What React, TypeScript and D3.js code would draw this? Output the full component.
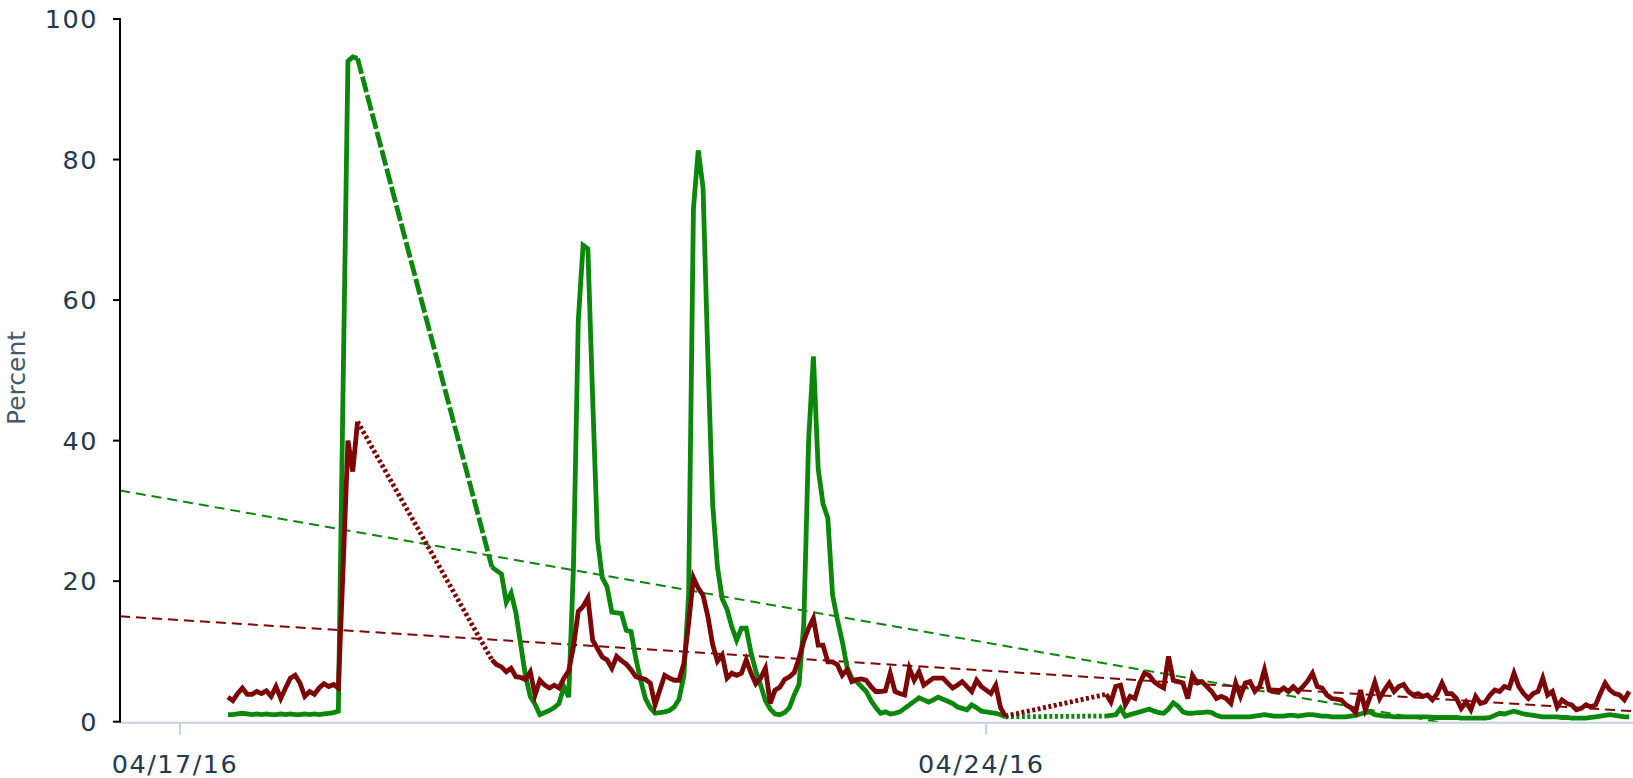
import * as d3 from "d3";

// time is counted in hours from 04/17/16 00:00
const HOUR = 3600 * 1000;
const origin = new Date(2016, 3, 17);
const domainStart = new Date(2016, 3, 16, 11, 30);
const domainEnd = new Date(2016, 3, 29, 14, 48);

// first hour of each run of readings (gaps in between)
const segStarts = [10, 65, 193];

const greenSeg1 = [
  1.0, 1.0, 1.1, 1.2, 1.1, 1.0, 1.1, 1.0, 1.1, 1.0, 1.0, 1.1, 1.0, 1.1, 1.0, 1.0, 1.1, 1.0, 1.1, 1.0, 1.1, 1.2, 1.3,
  1.5, 48, 94, 94.6, 94.4,
];
const redSeg1 = [
  3.5, 3.0, 4.0, 4.8, 3.9, 3.9, 4.3, 4.0, 4.4, 3.6, 5.0, 3.3, 4.8, 6.2, 6.6, 5.5, 3.6, 4.3, 3.9, 4.8, 5.4, 5.0, 5.3,
  4.8, 22, 40, 35.6, 42.7,
];

const greenSeg2 = [
  22, 21.5, 21, 17, 18.3, 15.5, 11, 6.5, 3.6, 2.5, 1.0, 1.3, 1.6, 2.0, 2.6, 5.0, 3.5, 22, 57, 67.8, 67.3, 46, 26,
  20.5, 19.2, 15.6, 15.5, 15.4, 13, 12.8, 9, 5.9, 3.3, 2.0, 1.2, 1.3, 1.4, 1.6, 2.1, 3.2, 6.5, 18, 73, 81.3, 76, 52,
  31, 22, 17.5, 16, 13.5, 11.6, 13.3, 13.3, 9.8, 7.2, 5.2, 3.0, 1.8, 1.1, 1.0, 1.3, 2.0, 3.8, 5.3, 14, 40, 52, 36,
  31, 29, 18, 14.5, 11.5, 7.8, 6.2, 5.7, 5.0, 4.3, 3.0, 2.0, 1.2, 1.4, 1.1, 1.2, 1.4, 1.9, 2.4, 2.9, 3.4, 3.1, 2.8,
  3.1, 3.5, 3.2, 2.9, 2.6, 2.1, 1.9, 1.7, 2.4, 2.0, 1.5, 1.4, 1.3, 1.2, 1.0, 0.7,
];
const redSeg2 = [
  8.8, 8.1, 7.8, 7.1, 7.6, 6.4, 6.3, 6.0, 7.1, 3.8, 5.9, 5.2, 4.8, 5.2, 4.8, 6.2, 7.2, 10.7, 15.7, 16.4, 17.6, 11.6,
  10.4, 9.2, 8.8, 7.6, 9.3, 8.7, 8.2, 7.4, 6.4, 6.2, 6.0, 5.5, 2.4, 4.5, 6.6, 6.2, 5.9, 5.9, 8.3, 14.0, 20.5, 19.0,
  18.0, 15.0, 11.0, 8.6, 9.5, 6.2, 6.9, 6.6, 6.9, 8.8, 6.9, 5.4, 6.2, 7.6, 2.6, 4.5, 4.9, 6.0, 6.4, 7.0, 9.0, 11.5,
  13.3, 14.7, 10.9, 10.9, 8.5, 8.5, 8.1, 6.6, 7.4, 5.7, 6.0, 6.1, 5.9, 5.0, 4.3, 4.3, 4.4, 6.9, 4.3, 4.0, 3.8, 7.6,
  5.9, 7.1, 5.2, 5.7, 6.2, 6.2, 6.2, 5.5, 4.8, 5.2, 5.7, 5.0, 4.3, 5.9, 5.0, 4.5, 4.0, 5.2, 2.0, 0.8,
];

const greenSeg3 = [
  0.8, 0.9, 1.0, 1.9, 0.8, 1.0, 1.2, 1.4, 1.6, 1.8, 1.5, 1.3, 1.2, 1.8, 2.7, 2.2, 1.4, 1.2, 1.2, 1.3, 1.3, 1.4, 1.3,
  0.9, 0.7, 0.7, 0.7, 0.7, 0.7, 0.7, 0.7, 0.8, 0.9, 1.0, 0.9, 0.8, 0.8, 0.8, 0.9, 0.9, 0.8, 0.9, 1.0, 1.0, 0.9, 0.8,
  0.8, 0.7, 0.7, 0.7, 0.7, 0.8, 0.9, 1.1, 1.3, 1.4, 1.0, 0.9, 0.8, 0.8, 0.7, 0.7, 0.7, 0.7, 0.7, 0.7, 0.7, 0.7, 0.6,
  0.6, 0.6, 0.6, 0.6, 0.6, 0.5, 0.5, 0.5, 0.5, 0.5, 0.5, 0.6, 0.9, 1.2, 1.1, 1.3, 1.5, 1.3, 1.1, 1.0, 0.9, 0.8, 0.7,
  0.7, 0.7, 0.7, 0.6, 0.6, 0.5, 0.5, 0.5, 0.5, 0.6, 0.7, 0.8, 0.9, 1.0, 0.9, 0.8, 0.7, 0.7,
];
const redSeg3 = [
  3.9, 2.8, 5.0, 5.2, 2.4, 3.6, 3.3, 5.5, 6.9, 6.6, 5.7, 5.2, 4.8, 9.3, 5.9, 5.7, 5.5, 3.3, 6.6, 5.5, 5.7, 5.0, 4.3,
  3.3, 3.6, 3.3, 2.6, 5.5, 3.6, 5.5, 5.7, 4.3, 5.0, 7.4, 4.5, 4.3, 4.3, 4.8, 4.3, 5.0, 4.3, 5.0, 5.8, 6.9, 5.0, 4.8,
  3.8, 3.3, 3.2, 3.1, 2.4, 2.0, 1.3, 4.5, 1.7, 3.5, 5.6, 3.3, 4.5, 5.5, 4.3, 5.0, 5.3, 4.3, 3.8, 4.0, 3.6, 3.8, 3.1,
  4.0, 5.5, 4.0, 4.0, 3.3, 1.9, 2.8, 1.7, 3.6, 2.6, 2.8, 3.8, 4.5, 4.3, 5.0, 4.8, 6.9, 5.0, 4.0, 3.3, 4.0, 4.3, 6.2,
  3.8, 4.3, 2.1, 3.1, 2.6, 2.4, 1.7, 1.9, 2.4, 2.1, 2.4, 4.0, 5.5, 4.5, 4.0, 3.8, 3.1, 4.3,
];

// trend line values at the two ends of the time axis
const greenTrend = [32.9, -4.9];
const redTrend = [15.0, 1.5];

const yTicks = [0, 20, 40, 60, 80, 100];

const GREEN = "#0b870b";
const RED = "#7d0606";

type Pt = [Date, number];

export default function App() {
  const W = 1633;
  const H = 778;
  const x = d3.scaleTime().domain([domainStart, domainEnd]).range([120, 1633]);
  const y = d3.scaleLinear().domain([0, 100]).range([721.7, 19]);
  const line = d3
    .line<Pt>()
    .x((d) => x(d[0]))
    .y((d) => y(d[1]));

  const toPts = (start: number, vals: number[]): Pt[] =>
    vals.map((v, i) => [new Date(origin.getTime() + (start + i) * HOUR), v]);

  const series = [
    { color: GREEN, segs: [greenSeg1, greenSeg2, greenSeg3], gapDash: ["16,3", "3,2.5"] },
    { color: RED, segs: [redSeg1, redSeg2, redSeg3], gapDash: ["3,2.5", "3,2.5"] },
  ].map((s) => {
    const runs = s.segs.map((vals, i) => toPts(segStarts[i], vals));
    const gaps = runs.slice(1).map((r, i) => [runs[i][runs[i].length - 1], r[0]] as Pt[]);
    return { ...s, runs, gaps };
  });

  const trends = [
    { color: GREEN, vals: greenTrend },
    { color: RED, vals: redTrend },
  ];

  const xTicks = x.ticks(d3.timeWeek.every(1)!);
  const fmt = d3.timeFormat("%m/%d/%y");
  const font = "DejaVu Sans, Verdana, sans-serif";

  return (
    <svg width={W} height={H} style={{ position: "absolute", left: 0, top: 0, background: "#fff" }}>
      <defs>
        <clipPath id="plot">
          <rect x={120} y={0} width={W - 120} height={y(0)} />
        </clipPath>
      </defs>

      {/* x axis */}
      <line x1={120} x2={W} y1={y(0) + 1} y2={y(0) + 1} stroke="#c3d1e0" strokeWidth={2} />
      {xTicks.map((t) => (
        <g key={+t}>
          <line x1={x(t)} x2={x(t)} y1={y(0) + 1} y2={y(0) + 13} stroke="#c3d1e0" strokeWidth={2} />
          <text
            x={x(t) - 5}
            y={773}
            textAnchor="middle"
            fontSize={25.5}
            letterSpacing={1.5}
            fontFamily={font}
            fill="#1f3a4f"
          >
            {fmt(t)}
          </text>
        </g>
      ))}

      {/* trends */}
      <g clipPath="url(#plot)">
        {trends.map((t, i) => (
          <line
            key={i}
            x1={x(domainStart)}
            x2={x(domainEnd)}
            y1={y(t.vals[0])}
            y2={y(t.vals[1])}
            stroke={t.color}
            strokeWidth={2}
            strokeDasharray="10,6"
          />
        ))}
      </g>

      {/* series */}
      {series.map((s, si) => (
        <g key={si} fill="none" stroke={s.color} strokeWidth={4.8}>
          {s.runs.map((r, i) => (
            <path key={"r" + i} d={line(r) ?? ""} />
          ))}
          {s.gaps.map((g, i) => (
            <path key={"g" + i} d={line(g) ?? ""} strokeDasharray={s.gapDash[i]} />
          ))}
        </g>
      ))}

      {/* y axis */}
      <line x1={120} x2={120} y1={y(100)} y2={y(0)} stroke="#000" strokeWidth={2} />
      {yTicks.map((t) => (
        <g key={t}>
          <line x1={113} x2={121} y1={y(t)} y2={y(t)} stroke="#000" strokeWidth={2} />
          <text
            x={98}
            y={y(t)}
            dy="0.36em"
            textAnchor="end"
            fontSize={25.5}
            letterSpacing={1.5}
            fontFamily={font}
            fill="#1f3a4f"
          >
            {t}
          </text>
        </g>
      ))}
      <text
        transform="translate(25, 378) rotate(-90)"
        textAnchor="middle"
        fontSize={25}
        fontFamily={font}
        fill="#425a6b"
      >
        Percent
      </text>
    </svg>
  );
}
